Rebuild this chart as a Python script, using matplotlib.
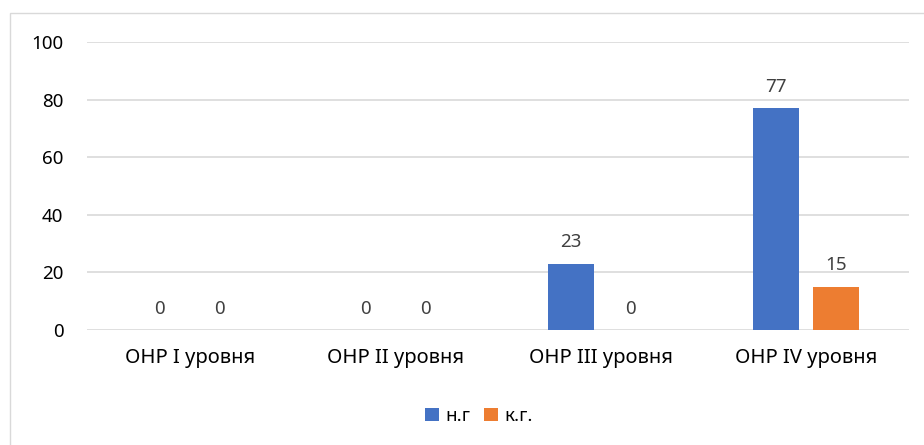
import matplotlib
matplotlib.use("Agg")
import matplotlib.pyplot as plt
from matplotlib.patches import Rectangle
import numpy as np

plt.rcParams['font.family'] = ['Noto Sans', 'DejaVu Sans']

categories = ["ОНР I уровня", "ОНР II уровня", "ОНР III уровня", "ОНР IV уровня"]
series_names = ["н.г", "к.г."]
values_ng = [0, 0, 23, 77]
values_kg = [0, 0, 0, 15]
colors = ["#4472C4", "#ED7D31"]
yticks = [0, 20, 40, 60, 80, 100]

fig = plt.figure(figsize=(9.24, 4.45), dpi=100)
fig.patch.set_facecolor("white")
# outer chart border
fig.patches.append(Rectangle((10/924, -0.1), 1.0, (445-13)/445 + 0.1, transform=fig.transFigure,
                             fill=False, edgecolor="#D9D9D9", linewidth=1.0))

ax = fig.add_axes([87/924, (445-330)/445, 822/924, (330-42)/445])
x = np.arange(len(categories))
w = 0.224
off = 0.146
b1 = ax.bar(x - off, values_ng, w, color=colors[0], label=series_names[0], zorder=3)
b2 = ax.bar(x + off, values_kg, w, color=colors[1], label=series_names[1], zorder=3)

for bars in (b1, b2):
    for r in bars:
        h = r.get_height()
        ax.annotate(f"{h:g}", (r.get_x() + r.get_width()/2, h), xytext=(0, 9),
                    textcoords="offset points", ha="center", va="bottom",
                    fontsize=13.5, color="#404040")

ax.set_xlim(-0.5, len(categories) - 0.5)
ax.set_ylim(0, 100)
ax.set_yticks(yticks)
ax.yaxis.grid(True, color="#D9D9D9", linewidth=1.2, zorder=0)
ax.set_axisbelow(True)
for s in ax.spines.values():
    s.set_visible(False)
ax.tick_params(axis="both", length=0, colors="#000000")
ax.tick_params(axis="y", pad=17, labelsize=13.5)
ax.tick_params(axis="x", pad=13, labelsize=14.5)
ax.set_xticks(x)
ax.set_xticklabels(categories)

ax.legend(loc="center", bbox_to_anchor=(479/924, (445-416)/445), bbox_transform=fig.transFigure,
          ncol=2, frameon=False, fontsize=13.5, handlelength=0.75, handleheight=0.75,
          handletextpad=0.35, columnspacing=0.7)

fig.savefig("out.png", dpi=100)
